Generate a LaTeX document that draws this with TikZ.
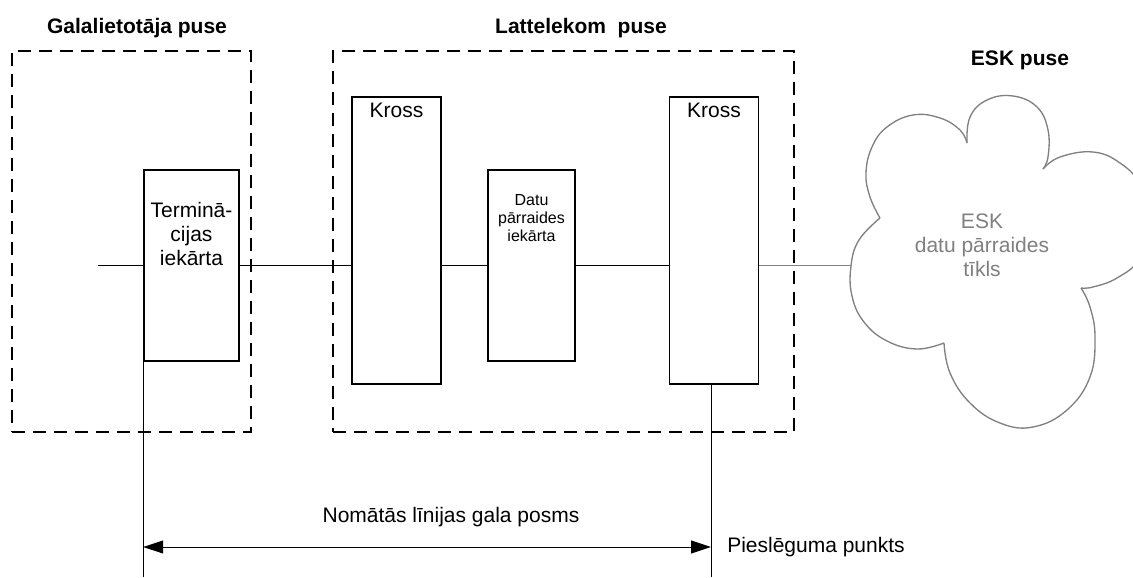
\documentclass[tikz,border=0pt]{standalone}
\usepackage{fontspec}
\setmainfont{Liberation Sans}
\usepackage{tikz}
\usetikzlibrary{arrows.meta}
\definecolor{cloudgray}{HTML}{808080}
\tikzstyle{zone} = [draw=black, line width=1.3pt, dash pattern=on 9.75pt off 6pt,
  minimum height=285.75pt, inner sep=0pt]
\tikzstyle{devbox} = [draw=black, line width=1.2pt, minimum height=143.25pt, inner sep=0pt]
\tikzstyle{crossbox} = [draw=black, line width=1.2pt, minimum width=66.5pt,
  minimum height=215.25pt, inner sep=0pt]
\tikzstyle{title} = [font=\fontsize{15.75}{18}\selectfont\bfseries, inner sep=0pt, anchor=base]
\tikzstyle{lbl} = [font=\fontsize{15.75}{18}\selectfont, align=center, inner sep=0pt]
\tikzstyle{smalllbl} = [font=\fontsize{12}{13.5}\selectfont, align=center, inner sep=0pt]
\tikzstyle{wire} = [line width=1.2pt]
\tikzstyle{thinline} = [line width=0.75pt]
\tikzstyle{cloudline} = [draw=cloudgray, line width=1pt]
\tikzstyle{dimarrow} = [thinline, {Triangle[length=15pt,width=9.75pt]}-{Triangle[length=15pt,width=9.75pt]}]

\begin{document}
\begin{tikzpicture}[x=0.75pt, y=-0.75pt]
  \useasboundingbox (0,0) rectangle (1133,578);
  % sides
  \node [zone, minimum width=179.25pt] (userzone) at (131.5,241.25) {};
  \node [zone, minimum width=345.75pt] (ltzone) at (563.5,241.25) {};
  \node [title] (usertitle) at (137,33.3) {Galalietotāja puse};
  \node [title] (lttitle) at (581,33.3) {Lattelekom~ puse};
  \node [title] (esktitle) at (1020,65) {ESK puse};
  % equipment
  \node [devbox, minimum width=71.25pt] (termin) at (191.5,265.5) {};
  \node [crossbox] (kross1) at (396.5,240.5) {};
  \node [devbox, minimum width=65.25pt] (datu) at (531.5,265.5) {};
  \node [crossbox] (kross2) at (714,240.5) {};
  \node [lbl] (termintxt) at (191.5,233.5) {Terminā-\\cijas\\iekārta};
  \node [lbl, anchor=base] (kross1txt) at (396.5,117.3) {Kross};
  \node [lbl, anchor=base] (kross2txt) at (714,117.3) {Kross};
  \node [smalllbl] (datutxt) at (531.5,217.8) {Datu\\pārraides\\iekārta};
  % cloud
  \begin{scope}
    \clip (0,0) rectangle (1133,578);
    \draw [cloudline] plot [smooth, tension=0.7] coordinates {(880,218) (870,197) (866,173) (872,147) (887,127) (913,115) (940,118) (960,130) (967,143)};
    \draw [cloudline] plot [smooth, tension=0.7] coordinates {(967,143) (970,117) (987,100) (1013,96) (1037,107) (1048,130) (1048,157) (1043,169)};
    \draw [cloudline] plot [smooth, tension=0.7] coordinates {(1043,169) (1060,157) (1093,152) (1120,163) (1140,185) (1148,222) (1140,258) (1117,278) (1093,287) (1081,288)};
    \draw [cloudline] plot [smooth, tension=0.7] coordinates {(1081,288) (1090,307) (1095,337) (1090,377) (1067,410) (1033,427) (1000,423) (970,403) (950,373) (944,343)};
    \draw [cloudline] plot [smooth, tension=0.7] coordinates {(944,343) (917,349) (887,341) (864,322) (852,296) (851,266) (859,240) (880,218)};
  \end{scope}
  \coordinate (cloudwest) at (851,265.5);
  \node [lbl, text=cloudgray] (cloudtxt) at (982,245) {ESK\\datu pārraides\\tīkls};
  % line
  \coordinate (linestart) at (98,265.5);
  \draw [wire] (linestart) -- (termin.west);
  \draw [wire] (termin.east) -- (termin.east -| kross1.west);
  \draw [wire] (kross1.east |- datu.west) -- (datu.west);
  \draw [wire] (datu.east) -- (datu.east -| kross2.west);
  \draw [wire, cloudgray] (kross2.east |- datu.east) -- (cloudwest);
  % span
  \coordinate (footrow) at (0,577);
  \coordinate (spanrow) at (0,547);
  \coordinate (kross2foot) at ([xshift=-2.25pt]kross2.south);
  \coordinate (leftfoot) at (termin.south west |- footrow);
  \coordinate (rightfoot) at (kross2foot |- footrow);
  \draw [thinline] (termin.south west) -- (leftfoot);
  \draw [thinline] (kross2foot) -- (rightfoot);
  \coordinate (spanL) at (leftfoot |- spanrow);
  \coordinate (spanR) at (rightfoot |- spanrow);
  \draw [dimarrow] (spanL) -- (spanR);
  \node [lbl, anchor=base] (spantxt) at (451,522.7) {Nomātās līnijas gala posms};
  \node [lbl, anchor=base west] (pointtxt) at (727,552.7) {Pieslēguma punkts};
\end{tikzpicture}
\end{document}
